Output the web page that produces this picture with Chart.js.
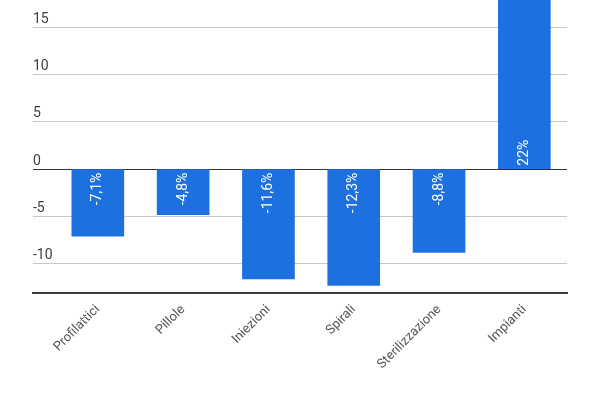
<!DOCTYPE html>
<html>
<head>
<meta charset="utf-8">
<script src="https://cdn.jsdelivr.net/npm/chart.js@4/dist/chart.umd.min.js"></script>
<style>
  html, body { margin: 0; padding: 0; background: #fff; }
  #wrap { width: 600px; height: 400px; position: relative; }
</style>
</head>
<body>
<div id="wrap"><canvas id="chart"></canvas></div>
<script>
// Dati del grafico
const categories = ['Profilattici', 'Pillole', 'Iniezioni', 'Spirali', 'Sterilizzazione', 'Impianti'];
const values = [-7.1, -4.8, -11.6, -12.3, -8.8, 22];
const yTicks = [-10, -5, 0, 5, 10, 15];

const fmt = v => v.toLocaleString('it-IT', { maximumFractionDigits: 1 }) + '%';

// Etichette bianche ruotate dentro le barre, vicino alla linea dello zero
const barLabels = {
    id: 'barLabels',
    afterDatasetsDraw(chart) {
        const ctx = chart.ctx;
        const meta = chart.getDatasetMeta(0);
        ctx.save();
        ctx.font = '14px Roboto';
        ctx.fillStyle = '#ffffff';
        ctx.textBaseline = 'middle';
        meta.data.forEach((bar, i) => {
            const p = bar.getProps(['x', 'base'], true);
            const v = values[i];
            ctx.save();
            ctx.translate(p.x, p.base);
            ctx.rotate(-Math.PI / 2);
            if (v < 0) {
                ctx.textAlign = 'right';
                ctx.fillText(fmt(v), -3, 0);
            } else {
                ctx.textAlign = 'left';
                ctx.fillText(fmt(v), 3, 0);
            }
            ctx.restore();
        });
        ctx.restore();
    }
};

const ctx = document.getElementById('chart').getContext('2d');
new Chart(ctx, {
    type: 'bar',
    data: {
        datasets: [{
            data: values.map((v, i) => ({ x: i, y: v })),
            backgroundColor: '#1d70df',
            borderWidth: 0,
            barThickness: 52
        }]
    },
    options: {
        responsive: true,
        maintainAspectRatio: false,
        animation: false,
        layout: { padding: { left: 33, right: 33, top: 0, bottom: 0 } },
        plugins: {
            legend: { display: false },
            tooltip: { enabled: false }
        },
        scales: {
            x: {
                type: 'linear',
                offset: false,
                bounds: 'data',
                min: -0.76,
                max: 5.5,
                grid: { display: false, drawTicks: false },
                border: { display: true, color: '#3c3c3c', width: 2 },
                afterBuildTicks: axis => {
                    axis.ticks = categories.map((c, i) => ({ value: i }));
                },
                afterFit: axis => {
                    axis.height = 107;
                    axis.paddingLeft = 0;
                    axis.paddingRight = 0;
                },
                ticks: {
                    autoSkip: false,
                    minRotation: 45,
                    maxRotation: 45,
                    padding: 9,
                    color: '#555',
                    font: { family: 'Roboto', size: 13 },
                    callback: v => categories[v]
                }
            },
            y: {
                min: -13.1,
                max: 17.9,
                afterBuildTicks: axis => {
                    axis.ticks = yTicks.map(v => ({ value: v }));
                },
                afterFit: axis => {
                    axis.paddingTop = 0;
                    axis.paddingBottom = 0;
                },
                grid: {
                    drawTicks: false,
                    color: c => c.tick && c.tick.value === 0 ? '#333' : '#c8c8c8',
                    lineWidth: 1
                },
                border: { display: false },
                ticks: {
                    mirror: true,
                    padding: 0,
                    labelOffset: -8,
                    color: '#3d3d3d',
                    font: { family: 'Roboto', size: 14 }
                }
            }
        }
    },
    plugins: [barLabels]
});
</script>
</body>
</html>
